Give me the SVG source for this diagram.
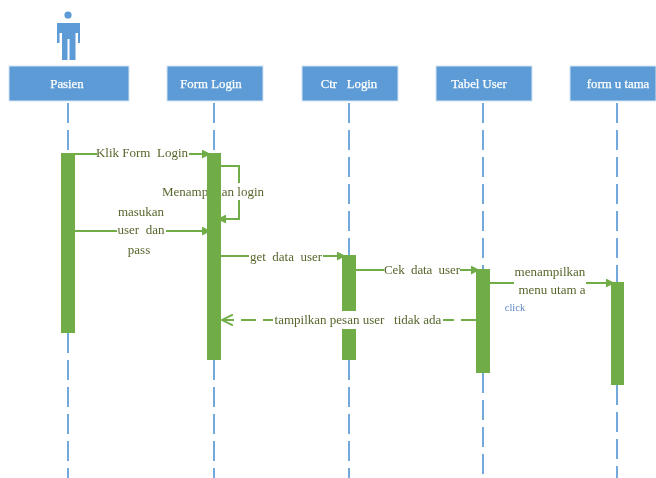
<svg xmlns="http://www.w3.org/2000/svg" width="656" height="478" viewBox="0 0 656 478">
<style>
.box{fill:#5b9bd5;stroke:#d5e5f3;stroke-width:1}
.ll{stroke:#5b9bd5;stroke-width:1.7;stroke-dasharray:20 7;fill:none}
.act{fill:#70ad47}
.msg{stroke:#70ad47;stroke-width:2;fill:none}
.dash{stroke-dasharray:15 7}
.h{font:12.8px "Liberation Serif",serif;fill:#fff;text-anchor:middle;stroke:#fff;stroke-width:.25}
.t{font:13px "Liberation Serif",serif;fill:#56662c;text-anchor:middle}
.bg{fill:#fff}
</style>
<defs>
<filter id="soft" x="-5%" y="-5%" width="110%" height="110%"><feGaussianBlur stdDeviation="0.55"/></filter>
<marker id="tip" viewBox="0 0 10 10" refX="8" refY="5" markerWidth="9" markerHeight="9" orient="auto" markerUnits="userSpaceOnUse"><path d="M0 0L10 5L0 10Z" fill="#70ad47"/></marker>
<marker id="open" viewBox="0 0 12 12" refX="11" refY="6" markerWidth="13" markerHeight="13" orient="auto" markerUnits="userSpaceOnUse"><path d="M1 1L11 6L1 11" fill="none" stroke="#70ad47" stroke-width="1.8"/></marker>
</defs>
<g filter="url(#soft)">
<g id="actor"><circle cx="68" cy="15" r="3.6" fill="#5b9bd5"/><path d="M57 23H80V43H78V33H75.500V60H69.500V39H67.500V60H62V33H59.500V43H57Z" fill="#5b9bd5"/></g>
<g id="lifelines">
<path class="ll" d="M68 103V153"/><path class="ll" d="M214 103V153"/><path class="ll" d="M349 103V255"/><path class="ll" d="M483 103V269"/><path class="ll" d="M617 103V282"/>
<path class="ll" d="M68 333V478"/><path class="ll" d="M214 360V478"/><path class="ll" d="M349 360V478"/><path class="ll" d="M483 373V478"/><path class="ll" d="M617 385V478"/>
</g>
<g id="node-pasien"><rect class="box" x="9" y="66" width="120" height="35"/><text class="h" x="67" y="88">Pasien</text></g>
<g id="node-form-login"><rect class="box" x="167" y="66" width="96" height="35"/><text class="h" x="211" y="88">Form Login</text></g>
<g id="node-ctr-login"><rect class="box" x="302" y="66" width="96" height="35"/><text class="h" x="349" y="88" xml:space="preserve">Ctr   Login</text></g>
<g id="node-tabel-user"><rect class="box" x="436" y="66" width="96" height="35"/><text class="h" x="479" y="88">Tabel User</text></g>
<g id="node-form-utama"><rect class="box" x="570" y="66" width="86" height="35"/><text class="h" x="618" y="88">form u tama</text></g>
<g id="connectors">
<path class="msg" d="M75 154H209" marker-end="url(#tip)"/>
<path class="msg" d="M221 166H239V219H219" marker-end="url(#tip)"/>
<path class="msg" d="M75 231H209" marker-end="url(#tip)"/>
<path class="msg" d="M221 256H344" marker-end="url(#tip)"/>
<path class="msg" d="M356 270H478" marker-end="url(#tip)"/>
<path class="msg" d="M490 283H613" marker-end="url(#tip)"/>
<path class="msg dash" d="M476 320H222" marker-end="url(#open)"/>
</g>
<g id="label-self">
<rect class="bg" x="161" y="183" width="46" height="17"/><rect class="bg" x="221" y="183" width="44" height="17"/>
<text class="t" x="213" y="196" textLength="102">Menampilkan login</text>
</g>
<g id="activations">
<rect class="act" x="61" y="153" width="14" height="180"/>
<rect class="act" x="207" y="153" width="14" height="207"/>
<rect class="act" x="342" y="255" width="14" height="105"/>
<rect class="act" x="476" y="269" width="14" height="104"/>
<rect class="act" x="611" y="282" width="13" height="103"/>
</g>
<g id="labels">
<rect class="bg" x="97" y="148" width="92" height="12"/><text class="t" x="142" y="157" xml:space="preserve">Klik Form  Login</text>
<rect class="bg" x="118" y="205" width="48" height="12"/><text class="t" x="141" y="216">masukan</text>
<rect class="bg" x="117" y="225" width="49" height="12"/><text class="t" x="141" y="234" xml:space="preserve">user  dan</text>
<text class="t" x="139" y="254">pass</text>
<rect class="bg" x="249" y="250" width="74" height="13"/><text class="t" x="286" y="261" xml:space="preserve">get  data  user</text>
<rect class="bg" x="384" y="264" width="76" height="12"/><text class="t" x="422" y="274" xml:space="preserve" textLength="76">Cek  data  user</text>
<rect class="bg" x="514" y="266" width="72" height="30"/><text class="t" x="550" y="276">menampilkan</text><text class="t" x="552" y="294">menu utam a</text>
<text x="515" y="311" style="font:10.5px 'Liberation Serif',serif;fill:#5b85c5;text-anchor:middle">click</text>
<rect class="bg" x="273" y="311" width="170" height="18"/>
<text class="t" x="358" y="324" xml:space="preserve">tampilkan pesan user   tidak ada</text>
</g>
</g>
</svg>
